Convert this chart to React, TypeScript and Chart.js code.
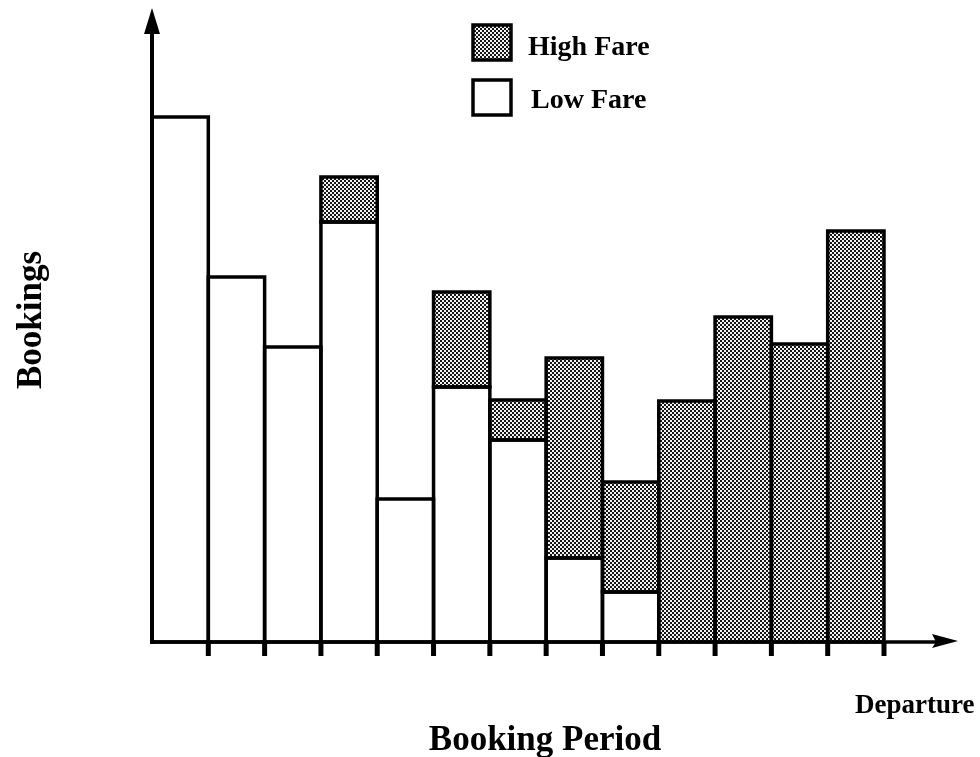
import { useEffect, useRef } from "react";
import { Chart, registerables } from "chart.js";

Chart.register(...registerables);

// ---- data (arbitrary booking units) ----
const periods = ["1", "2", "3", "4", "5", "6", "7", "8", "9", "10", "11", "12", "13"];
const lowFare: (number | null)[] = [105, 73, 59, 84, 28.6, 51, 40.4, 16.8, 10, null, null, null, null];
const highFare: (number | null)[] = [null, null, null, 9, null, 19, 8, 40, 22, 48.2, 65, 59.6, 82.2];
const yMax = 126;
const legendLabels = ["High Fare", "Low Fare"];
const yTitle = "Bookings";
const xTitle = "Booking Period";
const endLabel = "Departure";

const FONT = '"Liberation Serif", "Times New Roman", serif';

function makePattern(): CanvasPattern | string {
  const c = document.createElement("canvas");
  c.width = 4;
  c.height = 4;
  const g = c.getContext("2d");
  if (!g) return "#9a9a9a";
  g.fillStyle = "#f4f4f4";
  g.fillRect(0, 0, 4, 4);
  g.fillStyle = "#151515";
  g.fillRect(0, 0, 2, 2);
  g.fillRect(2, 2, 2, 2);
  return g.createPattern(c, "repeat") || "#9a9a9a";
}

export default function App() {
  const ref = useRef<HTMLCanvasElement | null>(null);

  useEffect(() => {
    document.body.style.margin = "0";
    const canvas = ref.current;
    if (!canvas) return;
    const pattern = makePattern();

    const outlinePlugin = {
      id: "outlines",
      afterDatasetsDraw(chart: any) {
        const ctx = chart.ctx;
        ctx.save();
        ctx.strokeStyle = "#000";
        ctx.lineWidth = 3.5;
        ctx.lineJoin = "miter";
        chart.data.datasets.forEach((ds: any, di: number) => {
          const meta = chart.getDatasetMeta(di);
          meta.data.forEach((el: any, i: number) => {
            if (ds.data[i] == null) return;
            const p = el.getProps(["x", "y", "base", "width"], true);
            ctx.strokeRect(p.x - p.width / 2, p.y, p.width, p.base - p.y);
          });
        });
        ctx.restore();
      },
    };

    const decorPlugin = {
      id: "decor",
      afterDraw(chart: any) {
        const ctx = chart.ctx;
        const { left, right, top, bottom } = chart.chartArea;
        const xs = chart.scales.x;
        ctx.save();
        ctx.fillStyle = "#000";
        ctx.strokeStyle = "#000";
        // y axis
        ctx.lineWidth = 4;
        ctx.beginPath();
        ctx.moveTo(left, bottom + 2);
        ctx.lineTo(left, top + 20);
        ctx.stroke();
        ctx.beginPath();
        ctx.moveTo(left, top - 4);
        ctx.lineTo(left - 8, top + 22);
        ctx.lineTo(left + 8, top + 22);
        ctx.closePath();
        ctx.fill();
        // x axis
        ctx.lineWidth = 3.5;
        ctx.beginPath();
        ctx.moveTo(left - 2, bottom);
        ctx.lineTo(right + 52, bottom);
        ctx.stroke();
        ctx.beginPath();
        ctx.moveTo(right + 74, bottom - 1);
        ctx.lineTo(right + 48, bottom - 8);
        ctx.lineTo(right + 52, bottom);
        ctx.lineTo(right + 48, bottom + 6);
        ctx.closePath();
        ctx.fill();
        // tick marks at period boundaries
        const step = xs.getPixelForValue(1) - xs.getPixelForValue(0);
        ctx.lineWidth = 5;
        periods.forEach((_, i) => {
          const xr = xs.getPixelForValue(i) + step / 2;
          ctx.beginPath();
          ctx.moveTo(xr, bottom);
          ctx.lineTo(xr, bottom + 14);
          ctx.stroke();
        });
        // legend
        const boxL = 473, boxW = 38;
        const rows = [
          { top: 25, h: 35, fill: pattern, text: legendLabels[0], tx: 528, ty: 55 },
          { top: 80, h: 35, fill: "#ffffff", text: legendLabels[1], tx: 531, ty: 108 },
        ];
        rows.forEach((r) => {
          ctx.fillStyle = r.fill as any;
          ctx.fillRect(boxL, r.top, boxW, r.h);
          ctx.lineWidth = 3.5;
          ctx.strokeStyle = "#000";
          ctx.strokeRect(boxL, r.top, boxW, r.h);
          ctx.fillStyle = "#000";
          ctx.font = `bold 28px ${FONT}`;
          ctx.textAlign = "left";
          ctx.textBaseline = "alphabetic";
          ctx.fillText(r.text, r.tx, r.ty);
        });
        // titles
        ctx.fillStyle = "#000";
        ctx.font = `bold 35px ${FONT}`;
        ctx.textAlign = "center";
        ctx.textBaseline = "alphabetic";
        ctx.fillText(xTitle, 545, 750);
        ctx.font = `bold 27px ${FONT}`;
        ctx.textAlign = "left";
        ctx.fillText(endLabel, 855, 713);
        ctx.save();
        ctx.translate(41, 320);
        ctx.rotate(-Math.PI / 2);
        ctx.font = `bold 35px ${FONT}`;
        ctx.textAlign = "center";
        ctx.fillText(yTitle, 0, 0);
        ctx.restore();
        ctx.restore();
      },
    };

    const chart = new Chart(canvas, {
      type: "bar",
      data: {
        labels: periods,
        datasets: [
          {
            label: legendLabels[1],
            data: lowFare as any,
            backgroundColor: "#ffffff",
            borderWidth: 0,
            barPercentage: 1,
            categoryPercentage: 1,
          },
          {
            label: legendLabels[0],
            data: highFare as any,
            backgroundColor: pattern as any,
            borderWidth: 0,
            barPercentage: 1,
            categoryPercentage: 1,
          },
        ],
      },
      options: {
        animation: false,
        responsive: false,
        events: [],
        layout: { padding: { left: 152, right: 96, top: 12, bottom: 115 } },
        plugins: { legend: { display: false }, tooltip: { enabled: false } },
        scales: {
          x: { stacked: true, display: false },
          y: { stacked: true, display: false, min: 0, max: yMax },
        },
      },
      plugins: [outlinePlugin, decorPlugin],
    });
    return () => chart.destroy();
  }, []);

  return (
    <div style={{ width: 980, height: 757, background: "#fff" }}>
      <canvas ref={ref} width={980} height={757} style={{ display: "block" }} />
    </div>
  );
}
